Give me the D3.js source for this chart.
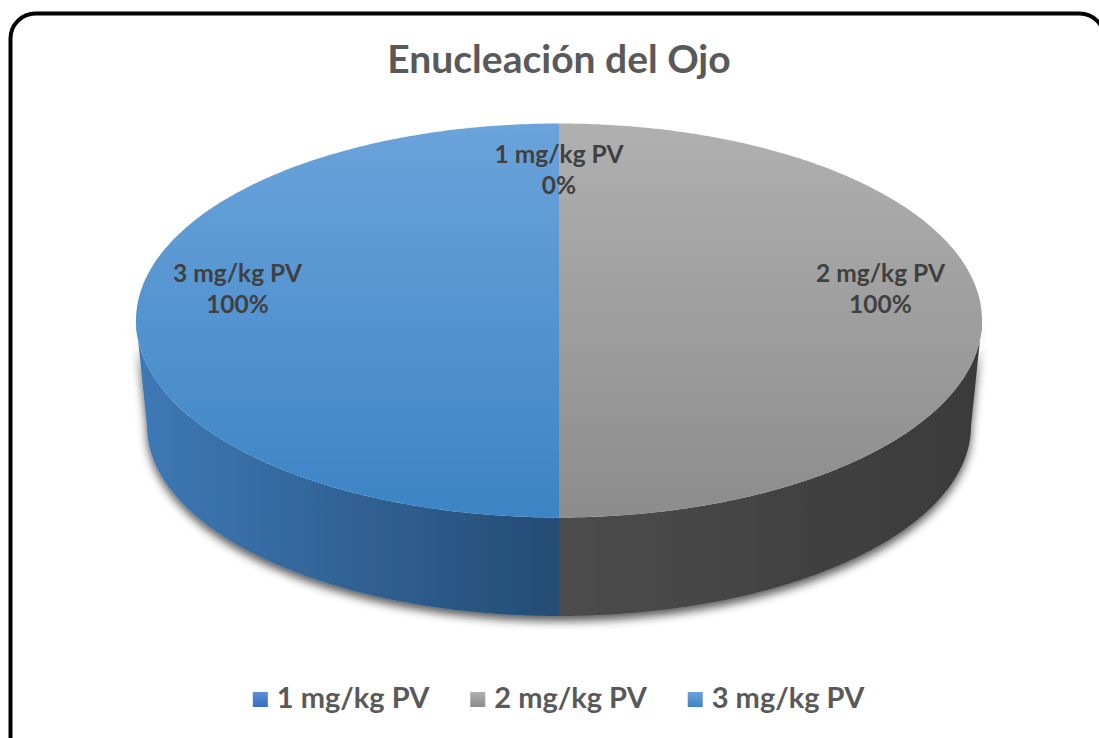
<!DOCTYPE html>
<html>
<head>
<meta charset="utf-8">
<script src="https://cdn.jsdelivr.net/npm/d3@7"></script>
<style>
body { margin: 0; background: #fff; }
svg { display: block; }
text { font-family: Lato, "Open Sans", "DejaVu Sans", sans-serif; font-weight: bold; }
</style>
</head>
<body>
<svg id="chart" width="1099" height="738"></svg>
<script>
const chartTitle = 'Enucleación del Ojo';
const doses = ['1 mg/kg PV', '2 mg/kg PV', '3 mg/kg PV'];
const values = [0, 100, 100];
const pctLabels = ['0%', '100%', '100%'];
const topColors = [['#5b8fd6', '#3a6cc0'], ['#b0b0b0', '#8c8c8c'], ['#6ba3db', '#3c84c5']];
const sideColors = [['#2f5597', '#203864'], ['#4c4c4c', '#3a3a3a'], ['#3e79b6', '#244c74']];

const W = 1099, H = 738;
const cx = 559, cy = 320.5, rx = 423, ry = 197;      // top face
const bcy = 426, brx = 412, bry = 190;               // bottom rim (a bit smaller)

const svg = d3.select('#chart');
const defs = svg.append('defs');

// gradients
topColors.forEach(function(c, i) {
    let g = defs.append('linearGradient').attr('id', 'top' + i)
        .attr('x1', 0).attr('y1', 0).attr('x2', 0).attr('y2', 1);
    g.append('stop').attr('offset', '0%').attr('stop-color', c[0]);
    g.append('stop').attr('offset', '100%').attr('stop-color', c[1]);
});
// side gradients run horizontally; blue side gets darker toward centre, grey toward the right
sideColors.forEach(function(c, i) {
    let g = defs.append('linearGradient').attr('id', 'side' + i)
        .attr('x1', 0).attr('y1', 0).attr('x2', 1).attr('y2', 0);
    g.append('stop').attr('offset', '0%').attr('stop-color', c[0]);
    g.append('stop').attr('offset', '100%').attr('stop-color', c[1]);
});
let f = defs.append('filter').attr('id', 'shadow')
    .attr('x', '-10%').attr('y', '-10%').attr('width', '120%').attr('height', '130%');
f.append('feDropShadow').attr('dx', 0).attr('dy', 5).attr('stdDeviation', 5)
    .attr('flood-color', '#000').attr('flood-opacity', 0.65);

// frame
svg.append('rect')
    .attr('x', 10.5).attr('y', 13.5)
    .attr('width', 1094).attr('height', 760)
    .attr('rx', 25).attr('ry', 25)
    .attr('fill', 'none').attr('stroke', '#000').attr('stroke-width', 4);

// title
svg.append('text')
    .attr('x', cx).attr('y', 73)
    .attr('text-anchor', 'middle')
    .attr('font-size', 39)
    .attr('fill', '#595959')
    .text(chartTitle);

const arcs = d3.pie().sort(null)(values);

function topPt(a) { return [cx + rx * Math.sin(a), cy - ry * Math.cos(a)]; }
function botPt(a) { return [cx + brx * Math.sin(a), bcy - bry * Math.cos(a)]; }
function samples(a0, a1) {
    let n = Math.max(2, Math.ceil(Math.abs(a1 - a0) / 0.01));
    return d3.range(n + 1).map(k => a0 + (a1 - a0) * k / n);
}
const line = d3.line();

// sides (front half only)
const sides = svg.append('g').attr('filter', 'url(#shadow)');
arcs.forEach(function(d, i) {
    let lo = Math.max(d.startAngle, Math.PI / 2);
    let hi = Math.min(d.endAngle, 3 * Math.PI / 2);
    if (hi <= lo) return;
    let pts = samples(lo, hi).map(topPt).concat(samples(hi, lo).map(botPt));
    sides.append('path')
        .attr('d', line(pts) + 'Z')
        .attr('fill', `url(#side${i})`);
});

// top faces
arcs.forEach(function(d, i) {
    if (d.endAngle - d.startAngle <= 0) return;
    let pts = [[cx, cy]].concat(samples(d.startAngle, d.endAngle).map(topPt));
    svg.append('path')
        .attr('d', line(pts) + 'Z')
        .attr('fill', `url(#top${i})`);
});

// data labels
arcs.forEach(function(d, i) {
    let a = (d.startAngle + d.endAngle) / 2;
    let lx = cx + 0.76 * rx * Math.sin(a);
    let ly = cy - 0.76 * ry * Math.cos(a) - 31 * Math.abs(Math.sin(a));
    let t = svg.append('text')
        .attr('x', lx).attr('y', ly - 8)
        .attr('text-anchor', 'middle')
        .attr('font-size', 24.5)
        .attr('fill', '#404040');
    t.append('tspan').attr('x', lx).text(doses[i]);
    t.append('tspan').attr('x', lx).attr('dy', 31).text(pctLabels[i]);
});

// legend
const legend = svg.append('g');
const items = legend.selectAll('g').data(doses).join('g');
items.append('rect')
    .attr('width', 15).attr('height', 15)
    .attr('y', -16)
    .attr('fill', (d, i) => `url(#top${i})`);
items.append('text')
    .attr('x', 24).attr('y', 0)
    .attr('font-size', 29)
    .attr('fill', '#595959')
    .text(d => d);
let widths = [];
items.each(function() { widths.push(this.getBBox().width); });
const gap = 40;
const total = d3.sum(widths) + gap * (widths.length - 1);
let x0 = cx - total / 2;
items.attr('transform', function(d, i) {
    let x = x0;
    x0 += widths[i] + gap;
    return `translate(${x},708)`;
});
</script>
</body>
</html>
